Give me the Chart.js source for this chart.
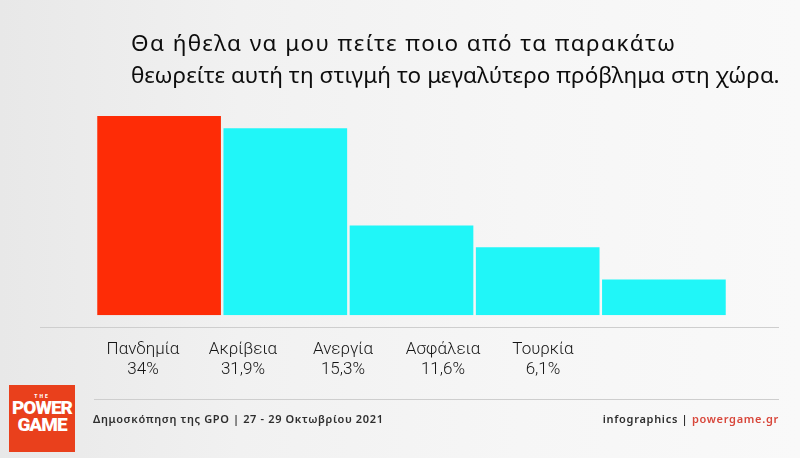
<!DOCTYPE html>
<html>
<head>
<meta charset="utf-8">
<script src="https://cdn.jsdelivr.net/npm/chart.js@4/dist/chart.umd.min.js"></script>
<style>
  html, body { margin: 0; padding: 0; }
  body {
    width: 800px; height: 458px; overflow: hidden; position: relative;
    background: linear-gradient(to right, #e8e8e8 0%, #f1f1f1 30%, #f6f6f6 65%, #f9f9f9 100%);
    font-family: "Noto Sans", sans-serif;
  }
  #c { position: absolute; left: 0; top: 0; }
  .title {
    position: absolute; left: 131px; top: 27px;
    font-family: "Noto Sans", sans-serif; font-size: 22.5px; line-height: 32px;
    color: #0d0d0d; white-space: nowrap; letter-spacing: 0.05px;
  }
  .title .l1 { letter-spacing: 1.4px; }
  .sep { position: absolute; height: 1px; background: #cecece; }
  .footer-left {
    position: absolute; left: 93px; top: 411px;
    font-family: "Noto Sans", sans-serif; font-size: 11px; letter-spacing: 0.64px;
    color: #2e2e2e; font-weight: 600; white-space: nowrap;
  }
  .footer-right {
    position: absolute; right: 21px; top: 411px;
    font-family: "Noto Sans", sans-serif; font-size: 11px; letter-spacing: 0.7px;
    color: #2e2e2e; font-weight: 600; white-space: nowrap;
  }
  .footer-right .red { color: #d8473b; }
  .logo {
    position: absolute; left: 9px; top: 385px; width: 66px; height: 67px;
    background: #e9401c; color: #fff; text-align: center;
    font-family: "Roboto", sans-serif; font-weight: 900;
  }
  .logo .the { font-size: 5px; letter-spacing: 2px; line-height: 6px; padding-top: 8px; }
  .logo .w { font-size: 19px; line-height: 17px; letter-spacing: -1px; }
</style>
</head>
<body>
<canvas id="c" width="800" height="458"></canvas>
<div class="title"><span class="l1">Θα ήθελα να μου πείτε ποιο από τα παρακάτω</span><br>θεωρείτε αυτή τη στιγμή το μεγαλύτερο πρόβλημα στη χώρα.</div>
<div class="sep" style="left:40px; width:739px; top:327px;"></div>
<div class="sep" style="left:94px; width:685px; top:399px;"></div>
<div class="logo"><div class="the">THE</div><div class="w">POWER</div><div class="w">GAME</div></div>
<div class="footer-left">Δημοσκόπηση της GPO | 27 - 29 Οκτωβρίου 2021</div>
<div class="footer-right">infographics | <span class="red">powergame.gr</span></div>
<script>
// ---- data ----
const categories = ["Πανδημία", "Ακρίβεια", "Ανεργία", "Ασφάλεια", "Τουρκία"];
const values = [34, 31.9, 15.3, 11.6, 6.1];
const valueLabels = ["34%", "31,9%", "15,3%", "11,6%", "6,1%"];
const barColors = ["#fe2c06", "#20f6f8", "#20f6f8", "#20f6f8", "#20f6f8"];

new Chart(document.getElementById('c'), {
  type: 'bar',
  data: {
    labels: categories,
    datasets: [{
      data: values,
      backgroundColor: barColors,
      borderWidth: 0,
      categoryPercentage: 1,
      barPercentage: 0.98
    }]
  },
  options: {
    responsive: false,
    animation: false,
    layout: { padding: { left: 96, right: 73, top: 116, bottom: 54 } },
    plugins: { legend: { display: false }, tooltip: { enabled: false }, title: { display: false } },
    scales: {
      y: { display: false, min: 0, max: 34 },
      x: { display: false, offset: true },
      x2: {
        type: 'linear',
        position: 'bottom',
        offset: false,
        min: -0.47, max: 5.84,
        grid: { display: false, drawTicks: false, offset: false },
        border: { display: false },
        afterBuildTicks: (axis) => { axis.ticks = categories.map((_, i) => ({ value: i })); },
        ticks: {
          autoSkip: false, maxRotation: 0, padding: 24,
          color: '#151515',
          font: { family: 'Roboto', size: 17, weight: '300', lineHeight: 1.2 },
          callback: (v) => [categories[v], valueLabels[v]]
        }
      }
    }
  }
});
</script>
</body>
</html>
